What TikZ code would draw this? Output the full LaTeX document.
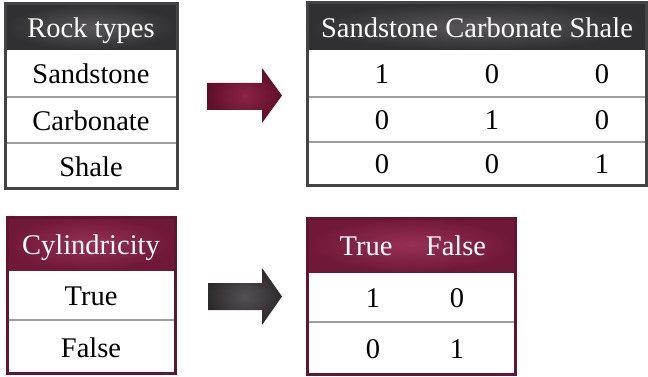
\documentclass[tikz,border=0pt]{standalone}
\usepackage{fontspec}
\setmainfont{Liberation Serif}

\definecolor{hdrgray}{RGB}{88,86,89}
\definecolor{hdrgraydk}{RGB}{48,47,49}
\definecolor{framegray}{RGB}{68,68,70}
\definecolor{hdrred}{RGB}{150,48,84}
\definecolor{hdrreddk}{RGB}{112,24,56}
\definecolor{framered}{RGB}{100,20,48}
\definecolor{arrowred}{RGB}{140,36,72}
\definecolor{arrowreddk}{RGB}{95,14,42}
\definecolor{arrowgray}{RGB}{85,80,83}
\definecolor{arrowgraydk}{RGB}{45,42,44}

\tikzset{
  cell/.style={font=\fontsize{28.5}{31}\selectfont\rmfamily, inner sep=0pt, text height=13pt, text depth=0pt, yshift=-4pt},
  hdr/.style={cell, text=white},
  rowline/.style={draw=gray!75, line width=1.2pt},
}

\begin{document}
\begin{tikzpicture}[x=1pt,y=-1pt]
\useasboundingbox (0,0) rectangle (648,377);

\fill[white] (5,4) rectangle (177,188);
\shade[inner color=hdrgray, outer color=hdrgraydk] (5,4) rectangle (177,50);
\foreach \y in {97,143}
  \draw[rowline] (5,\y) -- (177,\y);
\draw[framegray, line width=3pt] (5,4) rectangle (177,188);

\node[hdr] (rock) at (91,27) {Rock types};
\node[cell] (sand) at (91,73.5) {Sandstone};
\node[cell] (carb) at (91,120) {Carbonate};
\node[cell] (shale) at (91,165.5) {Shale};

\shade[inner color=arrowred, outer color=arrowreddk]
  (207,83) -- (262,83) -- (262,68) -- (282,95.5) -- (262,123) -- (262,110) -- (207,110) -- cycle;

\fill[white] (307,3) rectangle (646,185);
\shade[inner color=hdrgray, outer color=hdrgraydk] (307,3) rectangle (646,50);
\foreach \y in {97,142}
  \draw[rowline] (307,\y) -- (646,\y);
\draw[framegray, line width=3pt] (307,3) rectangle (646,185);

\node[hdr] (onehot) at (477,27) {Sandstone Carbonate Shale};
\node[cell] (a11) at (382,73.5) {1};
\node[cell] (a12) at (492,73.5) {0};
\node[cell] (a13) at (602,73.5) {0};
\node[cell] (a21) at (382,119.5) {0};
\node[cell] (a22) at (492,119.5) {1};
\node[cell] (a23) at (602,119.5) {0};
\node[cell] (a31) at (382,163.5) {0};
\node[cell] (a32) at (492,163.5) {0};
\node[cell] (a33) at (602,163.5) {1};

\fill[white] (7,217) rectangle (175,373);
\shade[inner color=hdrred, outer color=hdrreddk] (7,217) rectangle (175,270);
\draw[rowline] (7,320) -- (175,320);
\draw[framered, line width=3pt] (7,217) rectangle (175,373);

\node[hdr] (cyl) at (91,243.5) {Cylindricity};
\node[cell] (yes) at (91,295) {True};
\node[cell] (no) at (91,346.5) {False};

\shade[inner color=arrowgray, outer color=arrowgraydk]
  (208,283) -- (262,283) -- (262,268) -- (282,296.5) -- (262,325) -- (262,310) -- (208,310) -- cycle;

\fill[white] (307,218) rectangle (515,374);
\shade[inner color=hdrred, outer color=hdrreddk] (307,218) rectangle (515,272);
\draw[rowline] (307,322) -- (515,322);
\draw[framered, line width=3pt] (307,218) rectangle (515,374);

\node[hdr] (ctrue) at (366,245) {True};
\node[hdr] (cfalse) at (456,245) {False};
\node[cell] (b11) at (373,297) {1};
\node[cell] (b12) at (457,297) {0};
\node[cell] (b21) at (373,348) {0};
\node[cell] (b22) at (457,348) {1};
\end{tikzpicture}
\end{document}
